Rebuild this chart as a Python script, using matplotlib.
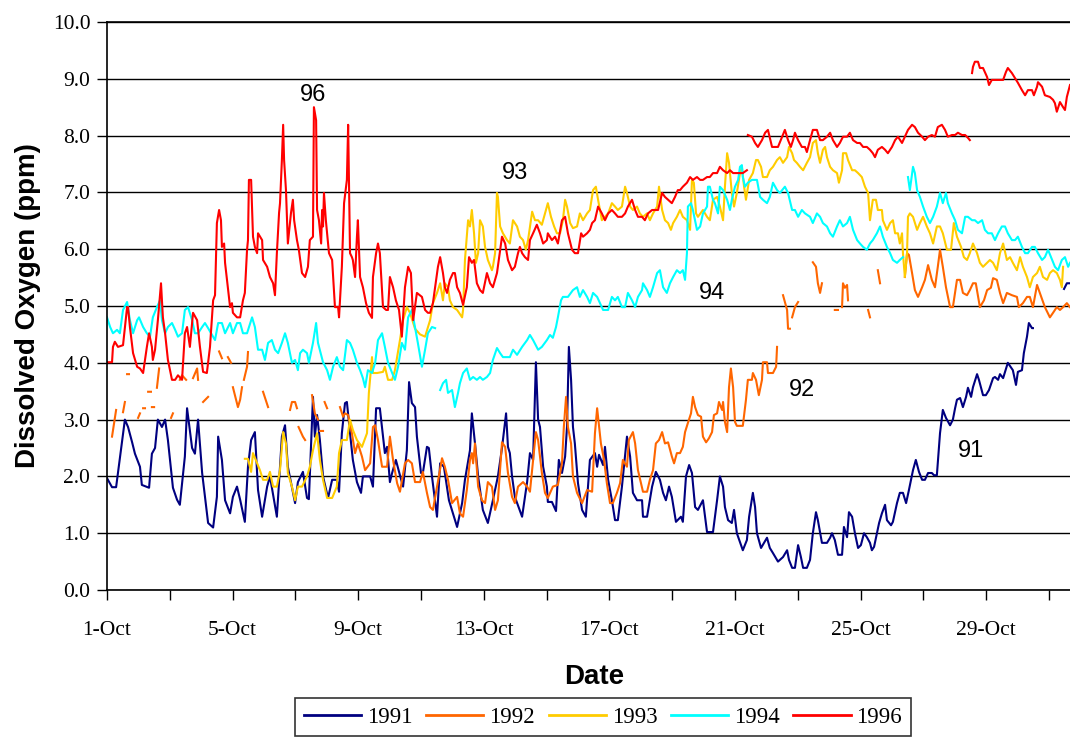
import numpy as np
import matplotlib
matplotlib.use('agg')
import matplotlib.pyplot as plt
from matplotlib.lines import Line2D

nan = np.nan

# x = days since 1-Oct, y = dissolved oxygen (ppm); nan marks gaps in the record
years = ['1991', '1992', '1993', '1994', '1996']
colors = ['#000080', '#FF6600', '#FFCC00', '#00FFFF', '#FF0000']
tick_days = [0, 4, 8, 12, 16, 20, 24, 28]
tick_labels = ['1-Oct', '5-Oct', '9-Oct', '13-Oct', '17-Oct', '21-Oct', '25-Oct', '29-Oct']

do_1991 = [(0.00,1.97),(0.16,1.81),(0.29,1.81),(0.57,3.0),(0.67,2.87),(0.80,2.6),(0.89,2.4),(1.05,2.17),(1.11,1.85),(1.34,1.8),
    (1.43,2.4),(1.53,2.5),(1.62,3.0),(1.75,2.87),(1.85,3.0),(1.94,2.64),(2.10,1.8),(2.23,1.59),(2.32,1.5),(2.48,2.35),(2.55,3.2),
    (2.71,2.5),(2.80,2.4),(2.90,3.0),(3.03,2.06),(3.22,1.18),(3.38,1.1),(3.50,1.64),(3.54,2.7),(3.66,2.29),(3.76,1.58),(3.92,1.35),
    (4.01,1.64),(4.14,1.82),(4.24,1.59),(4.39,1.2),(4.49,2.17),(4.59,2.64),(4.71,2.78),(4.81,1.76),(4.94,1.29),(5.10,1.82),(5.19,2.0),
    (5.41,1.29),(5.57,2.7),(5.67,2.9),(5.76,2.17),(5.99,1.53),(6.08,1.9),(6.24,2.08),(6.37,1.62),(6.43,1.6),(6.56,3.4),(6.62,2.7),
    (6.69,3.08),(6.78,2.64),(6.88,2.0),(7.04,1.62),(7.17,1.94),(7.32,1.94),(7.39,1.73),(7.48,2.76),(7.58,3.29),(7.64,3.31),(7.74,2.76),
    (7.83,2.29),(7.96,1.9),(8.09,1.71),(8.15,2.0),(8.38,2.0),(8.47,1.82),(8.57,3.2),(8.69,3.2),(8.85,2.41),(8.92,2.52),(9.01,1.9),
    (9.08,2.06),(9.20,2.29),(9.33,2.02),(9.43,1.82),(9.55,2.46),(9.62,3.66),(9.71,3.29),(9.81,3.22),(9.87,2.7),(10.0,2.06),(10.06,2.06),
    (10.19,2.52),(10.25,2.5),(10.35,2.0),(10.51,1.29),(10.61,2.23),(10.73,2.17),(10.89,1.58),(11.15,1.11),(11.31,1.53),(11.40,1.94),
    (11.56,2.46),(11.62,3.11),(11.72,2.58),(11.82,2.0),(11.97,1.41),(12.13,1.18),(12.29,1.58),(12.45,2.0),(12.58,2.5),(12.71,3.11),
    (12.77,2.52),(12.83,2.41),(12.90,2.0),(12.99,1.64),(13.22,1.29),(13.38,1.9),(13.47,2.41),(13.57,2.29),(13.66,4.01),(13.73,3.0),
    (13.79,2.87),(13.89,2.17),(14.01,1.82),(14.04,1.55),(14.17,1.55),(14.30,1.39),(14.39,2.29),(14.49,2.06),(14.59,2.35),(14.65,2.87),
    (14.71,4.28),(14.78,3.7),(14.84,2.87),(14.90,2.58),(15.0,1.88),(15.13,1.41),(15.25,1.29),(15.38,2.29),(15.54,2.41),(15.61,2.17),
    (15.67,2.38),(15.80,2.2),(15.86,2.52),(15.96,1.94),(16.08,1.58),(16.18,1.23),(16.27,1.23),(16.40,1.82),(16.56,2.7),(16.66,2.35),
    (16.75,1.71),(16.88,1.58),(17.04,1.58),(17.07,1.29),(17.20,1.29),(17.36,1.82),(17.48,2.08),(17.61,1.94),(17.71,1.71),(17.80,1.58),
    (17.90,1.82),(17.99,1.64),(18.12,1.2),(18.28,1.29),(18.34,1.2),(18.44,2.0),(18.54,2.2),(18.63,2.06),(18.73,1.46),(18.82,1.41),
    (18.98,1.58),(19.11,1.02),(19.30,1.02),(19.43,1.58),(19.52,2.0),(19.62,1.82),(19.68,1.46),(19.78,1.23),(19.90,1.18),(19.97,1.41),
    (20.06,1.0),(20.25,0.7),(20.38,0.88),(20.45,1.29),(20.57,1.71),(20.64,1.46),(20.70,1.0),(20.83,0.74),(21.02,0.92),(21.11,0.74),
    (21.21,0.65),(21.37,0.5),(21.53,0.58),(21.66,0.7),(21.72,0.53),(21.82,0.39),(21.91,0.39),(22.01,0.79),(22.10,0.58),(22.17,0.39),
    (22.29,0.39),(22.39,0.53),(22.48,1.0),(22.58,1.37),(22.64,1.23),(22.77,0.83),(22.93,0.83),(23.03,0.92),(23.09,1.0),(23.18,0.88),
    (23.28,0.62),(23.41,0.62),(23.47,1.11),(23.57,0.93),(23.63,1.37),(23.73,1.29),(23.82,1.0),(23.92,0.74),(24.01,0.79),(24.11,1.0),
    (24.20,0.93),(24.30,0.83),(24.36,0.7),(24.43,0.76),(24.52,1.0),(24.59,1.18),(24.68,1.35),(24.78,1.5),(24.84,1.23),(24.97,1.14),
    (25.03,1.2),(25.16,1.53),(25.25,1.71),(25.35,1.71),(25.45,1.53),(25.54,1.76),(25.67,2.11),(25.76,2.29),(25.86,2.08),(25.96,1.94),
    (26.05,1.94),(26.15,2.06),(26.27,2.06),(26.34,2.02),(26.43,2.02),(26.53,2.76),(26.62,3.17),(26.72,3.03),(26.85,2.9),(26.94,3.0),
    (27.01,3.2),(27.07,3.35),(27.17,3.38),(27.26,3.22),(27.36,3.4),(27.42,3.56),(27.52,3.4),(27.58,3.57),(27.71,3.8),(27.77,3.7),
    (27.90,3.43),(27.99,3.43),(28.09,3.52),(28.22,3.73),(28.28,3.75),(28.38,3.7),(28.44,3.8),(28.54,3.73),(28.69,4.0),(28.85,3.87),
    (28.95,3.61),(29.01,3.84),(29.14,3.87),(29.20,4.17),(29.30,4.46),(29.36,4.7),(29.46,4.61),(29.49,4.61),(nan,nan),
    (30.48,5.3),(30.57,5.4),(30.67,5.4)]

do_1992 = [(0.16,2.7),(0.29,3.17),(nan,nan),(0.51,3.13),(0.57,3.31),(nan,nan),(0.64,3.8),(0.70,3.8),(nan,nan),
    (0.99,3.03),(1.05,3.11),(nan,nan),(1.15,3.2),(1.21,3.2),(nan,nan),(1.31,3.49),(1.40,3.49),(nan,nan),(1.43,3.22),(1.50,3.22),
    (nan,nan),(1.59,3.56),(1.66,3.9),(nan,nan),(2.04,3.03),(2.10,3.11),(nan,nan),(2.32,3.7),(2.39,3.78),(2.52,3.7),(nan,nan),
    (2.74,3.73),(2.87,3.9),(2.90,3.7),(nan,nan),(3.06,3.31),(3.22,3.4),(nan,nan),(3.57,4.2),(3.66,4.08),(nan,nan),(3.85,4.1),(3.95,4.0),
    (nan,nan),(4.01,3.57),(4.17,3.22),(4.24,3.35),(4.30,3.57),(nan,nan),(4.36,3.7),(4.46,3.93),(4.49,4.19),(nan,nan),
    (4.97,3.49),(5.13,3.22),(nan,nan),(5.83,3.17),(5.89,3.31),(5.99,3.31),(6.05,3.2),(nan,nan),(6.10,2.87),(6.24,2.7),(6.31,2.64),
    (nan,nan),(6.53,3.43),(6.62,3.11),(6.72,3.0),(nan,nan),(6.78,2.8),(6.88,2.8),(nan,nan),(6.93,3.31),(7.01,3.2),(nan,nan),
    (7.42,3.22),(7.52,3.05),(7.58,3.11),(7.68,3.08),(7.80,2.76),(7.90,2.41),(7.99,2.58),(8.12,2.35),(8.22,2.11),(8.38,2.23),(8.47,2.87),
    (8.54,2.9),(8.63,2.64),(8.76,2.17),(8.92,2.17),(9.01,2.7),(9.11,2.29),(9.24,1.88),(9.33,1.73),(9.49,2.23),(9.59,2.29),(9.71,2.23),
    (9.81,1.9),(9.97,1.9),(10.06,2.08),(10.19,1.71),(10.29,1.46),(10.38,1.41),(10.51,1.82),(10.67,2.32),(10.76,2.17),(10.86,1.94),
    (10.99,1.53),(11.15,1.64),(11.24,1.35),(11.34,1.29),(11.46,1.76),(11.56,2.29),(11.62,2.41),(11.66,2.23),(11.72,2.58),(11.82,1.82),
    (11.94,1.58),(12.04,1.53),(12.13,1.9),(12.26,1.82),(12.36,1.41),(12.45,1.58),(12.58,2.6),(12.68,2.52),(12.77,2.06),(12.90,1.64),
    (12.99,1.53),(13.09,1.82),(13.25,1.9),(13.38,1.82),(13.47,1.73),(13.57,2.29),(13.66,2.78),(13.73,2.64),(13.85,2.06),(13.95,1.71),
    (14.04,1.62),(14.20,1.82),(14.36,1.85),(14.49,2.23),(14.55,2.87),(14.62,3.4),(14.68,2.87),(14.78,2.58),(14.84,2.0),(14.97,1.71),
    (15.13,1.53),(15.29,1.76),(15.45,1.73),(15.54,2.76),(15.61,3.2),(15.73,2.58),(15.83,2.29),(15.92,1.88),(16.02,1.53),(16.11,1.53),
    (16.24,1.71),(16.34,1.88),(16.43,2.29),(16.56,2.17),(16.62,2.64),(16.75,2.78),(16.82,2.58),(16.91,2.11),(17.07,1.73),(17.20,1.73),
    (17.29,1.94),(17.39,2.11),(17.48,2.58),(17.58,2.64),(17.68,2.78),(17.77,2.58),(17.87,2.6),(17.99,2.35),(18.06,2.23),(18.15,2.41),
    (18.25,2.41),(18.34,2.52),(18.41,2.78),(18.50,2.94),(18.60,3.11),(18.66,3.4),(18.73,3.22),(18.82,3.08),(18.92,3.05),(18.98,2.7),
    (19.08,2.6),(19.17,2.67),(19.27,2.78),(19.33,3.08),(19.43,3.11),(19.49,3.31),(19.59,3.17),(19.62,3.31),(19.68,2.96),(19.75,2.78),
    (19.81,3.57),(19.87,3.9),(19.94,3.57),(20.0,2.96),(20.06,2.89),(20.25,2.89),(20.35,3.35),(20.41,3.7),(20.54,3.7),(20.57,3.82),
    (20.67,3.7),(20.76,3.43),(20.86,3.7),(20.89,4.01),(21.02,4.01),(21.05,3.82),(21.21,3.82),(21.31,3.93),(21.34,4.28),(nan,nan),
    (21.53,5.19),(21.66,4.93),(21.69,4.6),(21.75,4.6),(nan,nan),(21.82,4.8),(21.91,4.98),(22.01,5.07),(nan,nan),
    (22.48,5.77),(22.58,5.69),(22.64,5.4),(22.71,5.23),(22.77,5.4),(nan,nan),(23.18,4.93),(23.28,4.93),(nan,nan),
    (23.41,4.98),(23.44,5.4),(23.50,5.32),(23.57,5.37),(23.60,5.1),(nan,nan),(24.24,4.93),(24.30,4.8),(nan,nan),
    (24.55,5.63),(24.62,5.4),(nan,nan),
    (25.41,5.51),(25.48,5.93),(25.54,5.9),(25.64,5.58),(25.73,5.28),(25.83,5.16),(25.96,5.33),(26.05,5.46),(26.15,5.72),(26.27,5.46),
    (26.37,5.33),(26.46,5.69),(26.53,5.99),(26.62,5.69),(26.72,5.33),(26.85,4.98),(26.94,4.98),(27.07,5.46),(27.17,5.46),(27.26,5.23),
    (27.39,5.19),(27.48,5.28),(27.58,5.4),(27.67,5.4),(27.80,4.98),(27.93,5.1),(28.03,5.28),(28.15,5.32),(28.22,5.49),(28.34,5.46),
    (28.44,5.23),(28.54,5.05),(28.66,5.23),(28.82,5.19),(28.98,5.16),(29.04,4.98),(29.17,5.05),(29.30,5.16),(29.39,5.16),(29.49,4.98),
    (29.62,5.37),(29.71,5.23),(29.87,4.98),(30.03,4.8),(30.13,4.88),(30.25,4.98),(30.35,4.93),(30.45,4.98),(30.57,5.05),(30.67,4.98)]

do_1993 = [(4.39,2.31),(4.49,2.31),(4.59,2.08),(4.65,2.41),(4.78,2.23),(4.87,2.11),(4.97,1.94),(5.10,1.94),(5.19,2.08),(5.29,1.82),
    (5.41,1.82),(5.51,2.11),(5.61,2.78),(5.70,2.58),(5.76,2.06),(5.89,1.82),(5.99,1.58),(6.08,1.82),(6.21,1.82),(6.37,2.0),(6.46,2.17),
    (6.56,2.46),(6.69,2.76),(6.78,2.29),(6.88,1.94),(7.01,1.62),(7.17,1.62),(7.32,1.82),(7.39,2.41),(7.48,2.64),(7.64,2.64),(7.74,3.0),
    (7.83,2.82),(7.96,2.64),(8.12,2.52),(8.28,2.76),(8.34,3.47),(8.44,4.1),(8.47,3.82),(8.60,3.82),(8.79,3.84),(8.85,3.93),(8.95,3.7),
    (9.08,3.7),(9.17,3.87),(9.24,4.1),(9.33,4.4),(9.43,4.75),(9.55,4.98),(9.65,4.88),(9.81,4.6),(9.97,4.5),(10.13,4.46),(10.29,4.75),
    (10.38,5.05),(10.51,5.23),(10.61,5.4),(10.70,5.1),(10.76,5.4),(10.86,5.33),(10.92,5.1),(11.02,4.98),(11.15,4.93),(11.31,4.8),
    (11.34,4.93),(11.40,5.81),(11.50,6.51),(11.56,6.4),(11.62,6.69),(11.69,6.28),(11.75,5.76),(11.82,5.93),(11.88,6.51),(11.97,6.4),
    (12.04,6.04),(12.13,5.81),(12.26,5.63),(12.29,5.69),(12.36,5.93),(12.42,6.99),(12.45,6.92),(12.52,6.4),(12.61,6.28),(12.74,6.16),
    (12.83,6.1),(12.93,6.51),(13.06,6.4),(13.15,6.22),(13.25,6.16),(13.34,5.99),(13.41,6.16),(13.54,6.66),(13.63,6.51),(13.73,6.51),
    (13.85,6.43),(13.95,6.63),(14.04,6.81),(14.14,6.57),(14.24,6.4),(14.33,6.28),(14.43,6.28),(14.52,6.51),(14.59,6.87),(14.65,6.75),
    (14.75,6.46),(14.84,6.37),(14.97,6.4),(15.06,6.63),(15.16,6.51),(15.29,6.63),(15.38,6.69),(15.48,7.04),(15.57,7.1),(15.64,6.87),
    (15.76,6.51),(15.86,6.57),(15.96,6.63),(16.08,6.81),(16.18,6.75),(16.27,6.69),(16.40,6.75),(16.50,7.1),(16.56,6.99),(16.66,6.75),
    (16.75,6.69),(16.88,6.75),(16.97,6.63),(17.07,6.57),(17.20,6.63),(17.29,6.51),(17.39,6.63),(17.52,6.75),(17.58,7.1),(17.68,6.69),
    (17.77,6.51),(17.87,6.46),(17.96,6.34),(18.03,6.46),(18.15,6.57),(18.25,6.69),(18.34,6.57),(18.47,6.51),(18.57,6.34),(18.63,7.22),
    (18.69,7.17),(18.76,6.63),(18.82,6.57),(18.98,6.69),(19.11,6.57),(19.20,6.51),(19.30,6.87),(19.43,6.92),(19.52,6.75),(19.62,6.51),
    (19.68,7.1),(19.75,7.69),(19.81,7.52),(19.90,6.99),(19.97,6.75),(20.06,6.99),(20.16,7.34),(20.22,7.45),(20.29,7.1),(20.35,6.87),
    (20.45,7.22),(20.57,7.34),(20.67,7.57),(20.73,7.57),(20.83,7.45),(20.89,7.27),(21.02,7.27),(21.11,7.39),(21.21,7.45),(21.34,7.57),
    (21.43,7.62),(21.53,7.52),(21.66,7.62),(21.72,7.8),(21.82,7.69),(21.88,7.57),(21.97,7.52),(22.07,7.45),(22.17,7.39),(22.29,7.52),
    (22.39,7.62),(22.48,7.87),(22.58,7.92),(22.64,7.69),(22.71,7.52),(22.80,7.75),(22.87,7.8),(22.93,7.62),(23.03,7.45),(23.12,7.39),
    (23.25,7.34),(23.31,7.17),(23.41,7.39),(23.44,7.69),(23.54,7.69),(23.60,7.57),(23.73,7.39),(23.82,7.39),(23.92,7.34),(24.04,7.27),
    (24.14,7.1),(24.24,6.99),(24.30,6.51),(24.39,6.87),(24.49,6.87),(24.55,6.69),(24.68,6.69),(24.71,6.51),(24.84,6.34),(24.94,6.46),
    (25.03,6.51),(25.10,6.28),(25.19,6.28),(25.25,6.1),(25.32,6.28),(25.35,5.93),(25.41,5.51),(25.48,5.93),(25.51,6.57),(25.57,6.63),
    (25.67,6.57),(25.80,6.34),(25.89,6.46),(25.99,6.57),(26.11,6.4),(26.21,6.28),(26.31,6.1),(26.43,6.4),(26.53,6.4),(26.62,6.28),
    (26.75,5.99),(26.88,5.99),(26.97,6.46),(27.07,6.22),(27.20,6.04),(27.29,5.86),(27.39,5.81),(27.48,5.93),(27.58,6.1),(27.71,5.93),
    (27.80,5.76),(27.90,5.69),(28.03,5.76),(28.12,5.81),(28.22,5.76),(28.34,5.63),(28.44,5.93),(28.54,6.1),(28.66,5.81),(28.76,5.86),
    (28.85,5.76),(28.98,5.63),(29.08,5.86),(29.17,5.69),(29.30,5.51),(29.39,5.33),(29.49,5.51),(29.62,5.58),(29.71,5.69),(29.81,5.51),
    (29.94,5.46),(30.03,5.58),(30.13,5.63),(30.25,5.58),(30.35,5.46),(30.41,5.33),(30.45,5.69)]

do_1994 = [(0.00,4.8),(0.10,4.63),(0.19,4.52),(0.32,4.58),(0.41,4.52),(0.51,4.93),(0.64,5.07),(0.73,4.75),(0.83,4.52),(0.96,4.75),
    (1.02,4.8),(1.15,4.63),(1.27,4.52),(1.37,4.46),(1.46,4.8),(1.59,4.98),(1.69,5.1),(1.75,4.75),(1.85,4.52),(1.94,4.63),(2.07,4.7),
    (2.17,4.58),(2.26,4.46),(2.39,4.52),(2.48,4.93),(2.58,4.98),(2.71,4.75),(2.80,4.52),(2.90,4.52),(3.03,4.63),(3.12,4.7),(3.22,4.61),
    (3.44,4.4),(3.54,4.7),(3.66,4.7),(3.76,4.52),(3.92,4.7),(4.01,4.52),(4.14,4.7),(4.24,4.7),(4.33,4.52),(4.46,4.52),(4.62,4.8),
    (4.71,4.63),(4.81,4.23),(4.94,4.23),(5.03,4.05),(5.13,4.35),(5.25,4.4),(5.35,4.23),(5.45,4.17),(5.57,4.35),(5.67,4.52),(5.76,4.35),
    (5.89,4.0),(5.99,4.05),(6.08,3.87),(6.15,4.17),(6.24,4.23),(6.37,4.17),(6.43,4.0),(6.56,4.35),(6.66,4.7),(6.72,4.35),(6.88,4.01),
    (7.01,3.87),(7.10,3.7),(7.20,3.93),(7.32,4.1),(7.42,3.93),(7.52,3.87),(7.64,4.4),(7.74,4.35),(7.83,4.23),(7.96,4.0),(8.06,3.87),
    (8.15,3.73),(8.22,3.57),(8.31,3.87),(8.44,3.82),(8.54,4.0),(8.63,4.4),(8.76,4.52),(8.85,4.28),(8.95,4.0),(9.08,3.82),(9.17,3.7),
    (9.27,3.93),(9.39,4.35),(9.49,4.23),(9.59,4.8),(9.71,4.93),(9.81,4.63),(9.90,4.35),(10.03,3.93),(10.13,4.23),(10.22,4.52),
    (10.35,4.63),(10.45,4.61),(nan,nan),
    (10.61,3.52),(10.70,3.64),(10.80,3.7),(10.86,3.47),(10.99,3.52),(11.08,3.22),(11.18,3.47),(11.24,3.64),(11.34,3.82),(11.46,3.9),
    (11.56,3.7),(11.66,3.75),(11.78,3.7),(11.88,3.75),(11.97,3.7),(12.10,3.75),(12.20,3.82),(12.29,4.05),(12.42,4.26),(12.52,4.17),
    (12.61,4.1),(12.83,4.1),(12.93,4.23),(13.06,4.14),(13.22,4.28),(13.38,4.4),(13.47,4.49),(13.57,4.4),(13.73,4.23),(13.85,4.28),
    (14.01,4.4),(14.11,4.49),(14.20,4.44),(14.30,4.63),(14.36,4.8),(14.46,5.1),(14.52,5.16),(14.68,5.16),(14.84,5.28),(14.97,5.33),
    (15.06,5.16),(15.16,5.28),(15.29,5.16),(15.38,5.05),(15.48,5.23),(15.61,5.16),(15.70,5.05),(15.80,4.93),(15.96,4.93),(16.08,5.16),
    (16.18,5.1),(16.27,5.16),(16.40,4.98),(16.50,4.98),(16.59,5.23),(16.72,5.1),(16.82,4.98),(16.91,5.16),(17.04,5.28),(17.07,5.4),
    (17.20,5.28),(17.29,5.16),(17.39,5.33),(17.52,5.58),(17.61,5.63),(17.71,5.33),(17.83,5.23),(17.93,5.4),(18.03,5.51),(18.15,5.63),
    (18.25,5.58),(18.34,5.63),(18.41,5.46),(18.47,5.93),(18.50,6.75),(18.60,6.81),(18.66,6.69),(18.79,6.34),(18.89,6.4),(18.98,6.63),
    (19.11,6.75),(19.14,7.1),(19.20,7.1),(19.30,6.87),(19.36,6.81),(19.46,6.63),(19.52,7.1),(19.62,7.04),(19.75,6.87),(19.84,6.69),
    (19.90,6.87),(20.0,7.1),(20.10,7.22),(20.16,7.45),(20.22,7.48),(20.25,7.27),(20.32,7.1),(20.41,7.17),(20.54,7.22),(20.70,7.22),
    (20.80,6.92),(20.89,6.87),(21.02,6.81),(21.11,6.92),(21.21,7.17),(21.34,7.04),(21.43,6.99),(21.59,7.1),(21.69,6.99),(21.82,6.69),
    (21.91,6.69),(22.01,6.57),(22.13,6.69),(22.23,6.63),(22.39,6.57),(22.48,6.46),(22.61,6.63),(22.71,6.57),(22.80,6.46),(22.93,6.4),
    (23.03,6.28),(23.12,6.22),(23.25,6.4),(23.34,6.51),(23.44,6.4),(23.57,6.46),(23.66,6.57),(23.76,6.34),(23.89,6.16),(23.98,6.1),
    (24.08,6.04),(24.20,5.99),(24.30,6.1),(24.39,6.16),(24.52,6.28),(24.62,6.4),(24.71,6.22),(24.84,6.04),(24.94,5.93),(25.03,5.81),
    (25.16,5.76),(25.25,5.81),(25.35,5.86),(nan,nan),
    (25.51,7.27),(25.57,7.04),(25.67,7.45),(25.73,7.34),(25.80,7.04),(25.89,6.92),(25.99,6.75),(26.11,6.57),(26.21,6.46),(26.31,6.57),
    (26.43,6.75),(26.53,6.99),(26.62,6.81),(26.72,6.99),(26.78,6.81),(26.91,6.63),(27.01,6.51),(27.10,6.34),(27.23,6.28),(27.33,6.57),
    (27.42,6.57),(27.55,6.51),(27.64,6.51),(27.74,6.46),(27.87,6.51),(27.96,6.34),(28.06,6.28),(28.18,6.28),(28.28,6.16),(28.38,6.28),
    (28.50,6.4),(28.60,6.4),(28.69,6.28),(28.82,6.16),(28.92,6.16),(29.01,6.22),(29.14,6.04),(29.24,5.93),(29.33,5.93),(29.46,6.04),
    (29.55,6.04),(29.65,5.93),(29.78,5.81),(29.87,5.86),(29.97,5.99),(30.10,5.81),(30.19,5.69),(30.29,5.63),(30.41,5.81),(30.51,5.86),
    (30.61,5.69),(30.67,5.76)]

do_1996 = [(0.00,4.01),(0.16,4.01),(0.19,4.28),(0.25,4.37),(0.35,4.28),(0.51,4.31),(0.64,4.98),(0.67,4.98),(0.73,4.63),(0.83,4.17),
    (0.96,3.93),(1.05,3.9),(1.15,3.82),(1.27,4.28),(1.34,4.52),(1.43,4.28),(1.46,4.05),(1.53,4.23),(1.62,4.75),(1.72,5.4),(1.78,4.8),
    (1.85,4.52),(1.94,4.05),(2.07,3.7),(2.17,3.7),(2.26,3.78),(2.39,3.7),(2.48,4.52),(2.55,4.63),(2.64,4.28),(2.74,4.88),(2.87,4.75),
    (2.96,4.28),(3.06,3.84),(3.18,3.82),(3.28,4.28),(3.38,5.1),(3.44,5.19),(3.50,6.46),(3.57,6.69),(3.63,6.51),(3.66,6.04),(3.73,6.1),
    (3.76,5.76),(3.85,5.33),(3.92,4.98),(3.98,5.05),(4.01,4.88),(4.14,4.8),(4.24,4.8),(4.33,5.1),(4.39,5.23),(4.46,5.99),(4.49,6.16),
    (4.52,7.22),(4.59,7.22),(4.65,6.22),(4.71,6.04),(4.78,5.93),(4.81,6.28),(4.94,6.16),(4.97,5.81),(5.10,5.69),(5.19,5.51),(5.29,5.4),
    (5.35,5.19),(5.41,5.93),(5.48,6.64),(5.51,6.81),(5.57,7.57),(5.61,8.19),(5.64,7.57),(5.70,7.04),(5.76,6.1),(5.86,6.64),(5.92,6.87),
    (5.96,6.51),(6.05,6.16),(6.11,5.99),(6.21,5.58),(6.31,5.51),(6.40,5.69),(6.46,6.16),(6.56,6.22),(6.59,8.5),(6.66,8.27),(6.69,6.69),
    (6.75,6.51),(6.82,6.1),(6.85,6.69),(6.88,6.4),(6.91,6.99),(6.97,6.51),(7.07,5.93),(7.17,5.81),(7.26,4.98),(7.36,4.98),(7.39,4.8),
    (7.48,5.69),(7.55,6.81),(7.64,7.22),(7.68,8.19),(7.74,5.93),(7.80,5.86),(7.83,5.81),(7.90,5.51),(7.96,6.22),(7.99,6.51),(8.06,5.51),
    (8.15,5.33),(8.25,5.05),(8.34,4.88),(8.44,4.79),(8.47,5.51),(8.57,5.93),(8.63,6.1),(8.69,5.93),(8.79,4.98),(8.89,4.93),(8.95,4.93),
    (9.01,5.51),(9.11,5.33),(9.20,5.1),(9.30,4.93),(9.39,4.46),(9.49,5.33),(9.59,5.69),(9.68,5.58),(9.75,4.75),(9.87,5.23),(10.03,5.16),
    (10.13,4.93),(10.22,4.88),(10.29,4.88),(10.38,5.05),(10.45,5.33),(10.54,5.69),(10.61,5.86),(10.70,5.58),(10.76,5.33),(10.83,5.23),
    (10.92,5.46),(11.02,5.58),(11.08,5.58),(11.15,5.33),(11.24,5.23),(11.34,5.02),(11.46,5.33),(11.53,5.86),(11.62,5.76),(11.69,5.81),
    (11.78,5.4),(11.88,5.28),(11.97,5.23),(12.10,5.58),(12.20,5.4),(12.29,5.33),(12.42,5.58),(12.58,6.22),(12.68,6.1),(12.77,5.81),
    (12.90,5.63),(12.99,5.69),(13.09,5.93),(13.15,6.04),(13.22,5.93),(13.31,5.86),(13.41,5.81),(13.47,6.16),(13.57,6.28),(13.69,6.43),
    (13.79,6.28),(13.89,6.1),(14.01,6.16),(14.04,6.28),(14.17,6.16),(14.27,6.22),(14.36,6.1),(14.49,6.51),(14.59,6.57),(14.68,6.28),
    (14.81,5.99),(14.90,5.93),(15.0,5.93),(15.10,6.28),(15.16,6.22),(15.29,6.28),(15.38,6.34),(15.45,6.46),(15.54,6.51),(15.64,6.75),
    (15.76,6.63),(15.86,6.51),(15.96,6.63),(16.08,6.69),(16.18,6.63),(16.27,6.57),(16.40,6.57),(16.50,6.63),(16.59,6.75),(16.72,6.87),
    (16.82,6.69),(16.91,6.57),(17.04,6.57),(17.13,6.51),(17.23,6.63),(17.36,6.69),(17.45,6.69),(17.55,6.69),(17.68,6.99),(17.77,6.92),
    (17.87,6.87),(17.99,6.81),(18.09,6.92),(18.18,7.04),(18.25,7.04),(18.34,7.1),(18.47,7.17),(18.57,7.27),(18.66,7.22),(18.79,7.27),
    (18.89,7.22),(18.98,7.22),(19.11,7.27),(19.20,7.27),(19.30,7.34),(19.43,7.34),(19.52,7.45),(19.62,7.39),(19.75,7.34),(19.84,7.39),
    (19.94,7.34),(20.06,7.34),(20.16,7.34),(20.25,7.34),(20.38,7.39),(nan,nan),
    (20.41,8.01),(20.54,7.98),(20.64,7.87),(20.73,7.8),(20.86,7.92),(20.96,8.05),(21.05,8.1),(21.18,7.8),(21.27,7.8),(21.37,7.8),
    (21.50,7.98),(21.59,8.1),(21.69,7.92),(21.78,7.8),(21.85,7.92),(21.91,8.05),(22.01,7.92),(22.13,7.8),(22.23,7.8),(22.29,7.71),
    (22.39,7.92),(22.48,8.1),(22.61,8.1),(22.71,7.92),(22.80,7.92),(22.93,7.98),(23.03,8.05),(23.12,7.92),(23.25,7.8),(23.34,7.87),
    (23.44,7.98),(23.57,7.98),(23.66,8.05),(23.76,7.92),(23.89,7.87),(23.98,7.87),(24.08,7.8),(24.20,7.8),(24.30,7.75),(24.39,7.69),
    (24.46,7.62),(24.55,7.75),(24.68,7.8),(24.78,7.75),(24.87,7.69),(25.0,7.8),(25.10,7.92),(25.19,7.98),(25.32,7.87),(25.41,7.98),
    (25.51,8.1),(25.64,8.19),(25.73,8.15),(25.83,8.05),(25.96,7.98),(26.05,7.92),(26.15,7.98),(26.27,8.01),(26.37,7.98),(26.46,8.15),
    (26.59,8.19),(26.69,8.1),(26.78,7.98),(26.91,8.01),(27.01,8.01),(27.10,8.05),(27.23,8.01),(27.33,8.01),(27.42,7.96),(27.48,7.92),
    (nan,nan),
    (27.55,9.1),(27.58,9.21),(27.64,9.3),(27.74,9.3),(27.80,9.19),(27.90,9.19),(28.03,9.03),(28.09,8.89),(28.18,8.98),(28.34,8.98),
    (28.54,8.98),(28.63,9.12),(28.69,9.19),(28.82,9.1),(28.92,9.01),(29.01,8.93),(29.14,8.8),(29.24,8.71),(29.33,8.8),(29.46,8.8),
    (29.52,8.71),(29.62,8.86),(29.65,8.94),(29.78,8.86),(29.87,8.71),(30.03,8.68),(30.13,8.63),(30.19,8.57),(30.25,8.42),(30.35,8.59),
    (30.45,8.5),(30.51,8.45),(30.57,8.68),(30.67,8.89)]

series = [do_1991, do_1992, do_1993, do_1994, do_1996]

# year labels written inside the plot
note_text = ['96', '93', '94', '92', '91']
note_day = [6.56, 13.0, 19.27, 22.13, 27.52]
note_ppm = [8.71, 7.34, 5.23, 3.52, 2.45]

serif = 'Liberation Serif'
sans = 'Liberation Sans'

fig = plt.figure(figsize=(10.7, 7.4), dpi=100)
ax = fig.add_axes([0.1, 0.2027, 0.9, 0.7676])

for pts, name, c in zip(series, years, colors):
    d = [p[0] for p in pts]
    v = [p[1] for p in pts]
    ax.plot(d, v, color=c, lw=1.5, label=name, solid_joinstyle='round')

for t, x, y in zip(note_text, note_day, note_ppm):
    ax.text(x, y, t, ha='center', va='center', fontsize=17, family=sans)

ax.set_xlim(0, 30.67)
ax.set_ylim(0, 10)
ax.set_yticks(np.arange(0, 11))
ax.set_yticklabels([f'{v:.1f}' for v in range(11)], family=serif, fontsize=15.5)
ax.set_xticks(tick_days)
ax.set_xticklabels(tick_labels, family=serif, fontsize=15.5)
ax.set_xticks(np.arange(2, 31, 4), minor=True)
ax.tick_params(axis='both', which='both', direction='out', length=7, width=1, color='black')
ax.tick_params(axis='x', which='major', pad=15)
ax.tick_params(axis='y', pad=5)
ax.yaxis.grid(True, color='black', lw=1)
ax.set_axisbelow(True)
ax.spines['right'].set_visible(False)
for s in ['left', 'bottom', 'top']:
    ax.spines[s].set_linewidth(1.2)

fig.text(28 / 1070, 1 - 306 / 740, 'Dissolved Oxygen (ppm)', rotation=90, ha='center', va='center',
         fontsize=20, fontweight='bold', family=sans)
fig.text(594 / 1070, 1 - 677 / 740, 'Date', ha='center', va='center', fontsize=20, fontweight='bold', family=sans)

handles = [Line2D([0], [0], color=c, lw=2) for c in colors]
leg = fig.legend(handles, years, loc='upper center', bbox_to_anchor=(603 / 1070, 1 - 698 / 740), ncol=5,
                 frameon=True, fancybox=False, edgecolor='black', prop={'family': serif, 'size': 16.5},
                 handlelength=2.5, handletextpad=0.25, columnspacing=0.6, borderpad=0.37, borderaxespad=0)
leg.get_frame().set_linewidth(1.2)

fig.savefig('out.png', dpi=100)
